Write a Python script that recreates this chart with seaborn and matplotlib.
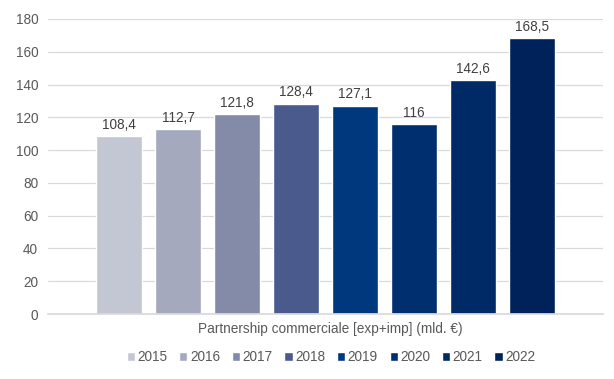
import matplotlib
matplotlib.use("Agg")
import matplotlib.pyplot as plt
import matplotlib.transforms as mtransforms
import seaborn as sns
import pandas as pd

category = ["Partnership commerciale [exp+imp] (mld. €)"]
years = ["2015", "2016", "2017", "2018", "2019", "2020", "2021", "2022"]
values = [108.4, 112.7, 121.8, 128.4, 127.1, 116.0, 142.6, 168.5]
labels = ["108,4", "112,7", "121,8", "128,4", "127,1", "116", "142,6", "168,5"]
colors = ["#C3C6D3", "#A5A9BD", "#848BA8", "#4A5A8D", "#00387E", "#002F6F", "#002A66", "#00225A"]

df = pd.DataFrame({"cat": category * len(years), "year": years, "value": values})

sns.set_theme(style="white")
plt.rcParams["font.family"] = ["Liberation Sans", "DejaVu Sans"]

fig = plt.figure(figsize=(6.14, 3.79), dpi=100)
ax = fig.add_axes([0.078, 0.1715, 0.904, 0.7785])

sns.barplot(data=df, x="cat", y="value", hue="year", hue_order=years,
            palette=colors, width=0.85, gap=0.22, ax=ax, legend=True,
            saturation=1)

ax.set_xlim(-0.5, 0.5)
ax.set_ylim(0, 180)
ax.set_yticks(range(0, 181, 20))
ax.yaxis.grid(True, color="#D9D9D9", linewidth=0.9)
ax.set_axisbelow(True)
for s in ["top", "right", "left"]:
    ax.spines[s].set_visible(False)
ax.spines["bottom"].set_color("#D9D9D9")
ax.tick_params(axis="y", length=0, labelsize=9.8, labelcolor="#595959", pad=7)
ax.tick_params(axis="x", length=0, labelsize=9.8, labelcolor="#595959", pad=6)
ax.set_xlabel("")
ax.set_ylabel("")

offset = mtransforms.ScaledTranslation(5 / 100, 0, fig.dpi_scale_trans)
for lbl in ax.get_xticklabels():
    lbl.set_transform(lbl.get_transform() + offset)

for cont, lab in zip(ax.containers, labels):
    ax.bar_label(cont, labels=[lab], padding=3, fontsize=9.8, color="#404040")

handles, leg_labels = ax.get_legend_handles_labels()
ax.legend(handles, leg_labels, loc="upper center", bbox_to_anchor=(0.51, -0.082),
          ncol=8, frameon=False, fontsize=9.8, handlelength=0.6, handleheight=0.6,
          handletextpad=0.2, columnspacing=0.85, labelcolor="#595959")

fig.savefig("out.png", dpi=100)
